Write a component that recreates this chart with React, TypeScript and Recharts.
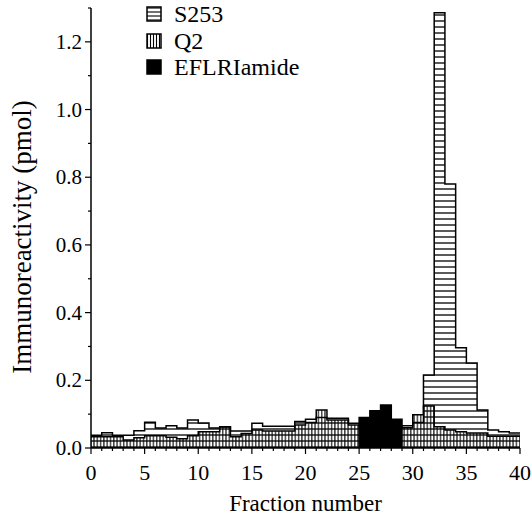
import React from 'react';
import { ComposedChart, Area, XAxis, YAxis, Legend, Label } from 'recharts';

const fractions = [0, 1, 2, 3, 4, 5, 6, 7, 8, 9, 10, 11, 12, 13, 14, 15, 16, 17, 18, 19, 20, 21, 22, 23, 24, 25, 26, 27, 28, 29, 30, 31, 32, 33, 34, 35, 36, 37, 38, 39];

const s253 = [0.038, 0.045, 0.038, 0.038, 0.051, 0.076, 0.059, 0.066, 0.059, 0.083, 0.074, 0.059, 0.062, 0.05, 0.05, 0.073, 0.064, 0.064, 0.064, 0.078, 0.085, 0.09, 0.088, 0.088, 0.073, 0.072, 0.07, 0.07, 0.065, 0.066, 0.075, 0.216, 1.286, 0.78, 0.296, 0.251, 0.112, 0.053, 0.048, 0.044];

const q2 = [0.033, 0.033, 0.033, 0.024, 0.03, 0.036, 0.036, 0.032, 0.027, 0.036, 0.048, 0.048, 0.063, 0.033, 0.043, 0.053, 0.05, 0.05, 0.05, 0.068, 0.075, 0.112, 0.083, 0.083, 0.068, 0.062, 0.06, 0.06, 0.06, 0.06, 0.098, 0.124, 0.063, 0.053, 0.048, 0.044, 0.044, 0.035, 0.035, 0.035];

const eflriamide = [0, 0, 0, 0, 0, 0, 0, 0, 0, 0, 0, 0, 0, 0, 0, 0, 0, 0, 0, 0, 0, 0, 0, 0, 0, 0.09, 0.11, 0.127, 0.085, 0, 0, 0, 0, 0, 0, 0, 0, 0, 0, 0];

const xTicks = [0, 1, 2, 3, 4, 5, 6, 7, 8, 9, 10, 11, 12, 13, 14, 15, 16, 17, 18, 19, 20, 21, 22, 23, 24, 25, 26, 27, 28, 29, 30, 31, 32, 33, 34, 35, 36, 37, 38, 39, 40];
const xLabelTicks = [0, 5, 10, 15, 20, 25, 30, 35, 40];
const yTicks = [0, 0.1, 0.2, 0.3, 0.4, 0.5, 0.6, 0.7, 0.8, 0.9, 1.0, 1.1, 1.2, 1.3];
const yLabelTicks = [0, 0.2, 0.4, 0.6, 0.8, 1.0, 1.2];

const seriesNames = ['S253', 'Q2', 'EFLRIamide'];

const rows = fractions.map((f, i) => ({ fraction: f, S253: s253[i], Q2: q2[i], EFLRIamide: eflriamide[i] }));
// closing edge of the last histogram step
rows.push({ fraction: 40, S253: s253[39], Q2: q2[39], EFLRIamide: eflriamide[39] });

const FONT = "'Times New Roman', Times, 'Liberation Serif', 'DejaVu Serif', serif";

const XTick = (props: any) => {
  const { x, y, payload } = props;
  const v = payload.value;
  const major = xLabelTicks.includes(v);
  return (
    <g>
      <line x1={x} y1={y} x2={x} y2={y + (major ? 6 : 3)} stroke="#000" strokeWidth={1.2} />
      {major && (
        <text x={x} y={y + 32} textAnchor="middle" fontFamily={FONT} style={{ fontFamily: FONT }} fontSize={22} fill="#000">
          {v}
        </text>
      )}
    </g>
  );
};

const YTick = (props: any) => {
  const { x, y, payload } = props;
  const v = payload.value;
  const major = yLabelTicks.some((t) => Math.abs(t - v) < 1e-9);
  return (
    <g>
      <line x1={x} y1={y} x2={x - (major ? 6 : 3)} y2={y} stroke="#000" strokeWidth={1.2} />
      {major && (
        <text x={x - 9} y={y + 7} textAnchor="end" fontFamily={FONT} style={{ fontFamily: FONT }} fontSize={21} fill="#000">
          {v.toFixed(1)}
        </text>
      )}
    </g>
  );
};

const legendFills = ['url(#legH)', 'url(#legV)', '#000'];

const renderLegend = () => (
  <div style={{ fontFamily: FONT, fontSize: 24, color: '#000', lineHeight: '26px' }}>
    {seriesNames.map((name, i) => (
      <div key={name} style={{ display: 'flex', alignItems: 'center', height: 26.5 }}>
        <svg width={16} height={16} style={{ marginRight: 12 }}>
          <rect x={1} y={1} width={14} height={14} fill={legendFills[i]} stroke="#000" strokeWidth={1.5} />
        </svg>
        <span>{name}</span>
      </div>
    ))}
  </div>
);

const YTitle = () => (
  <text
    x={22}
    y={237}
    transform="rotate(-90, 22, 237)"
    textAnchor="middle"
    dominantBaseline="central"
    fontFamily={FONT}
    style={{ fontFamily: FONT }}
    fontSize={27}
    fill="#000"
  >
    Immunoreactivity (pmol)
  </text>
);

export default function App() {
  return (
    <div style={{ position: 'absolute', left: 0, top: 0, width: 531, height: 520, background: '#fff', fontFamily: FONT }}>
      <ComposedChart width={531} height={520} data={rows} margin={{ top: 8, right: 11, bottom: 0, left: 0 }}>
        <defs>
          <pattern id="hatchH" patternUnits="userSpaceOnUse" width={8} height={6}>
            <line x1={0} y1={3} x2={8} y2={3} stroke="#000" strokeWidth={1.3} />
          </pattern>
          <pattern id="hatchV" patternUnits="userSpaceOnUse" width={3.3} height={8}>
            <rect x={0} y={0} width={3.3} height={8} fill="#fff" />
            <line x1={1.6} y1={0} x2={1.6} y2={8} stroke="#000" strokeWidth={1.1} />
          </pattern>
          <pattern id="legH" patternUnits="userSpaceOnUse" width={4} height={4}>
            <rect x={0} y={0} width={4} height={4} fill="#fff" />
            <line x1={0} y1={2} x2={4} y2={2} stroke="#000" strokeWidth={1.1} />
          </pattern>
          <pattern id="legV" patternUnits="userSpaceOnUse" width={3} height={4}>
            <rect x={0} y={0} width={3} height={4} fill="#fff" />
            <line x1={1.5} y1={0} x2={1.5} y2={4} stroke="#000" strokeWidth={1.1} />
          </pattern>
        </defs>
        <XAxis
          xAxisId="x"
          dataKey="fraction"
          type="number"
          domain={[0, 40]}
          ticks={xTicks}
          interval={0}
          allowDataOverflow
          tickLine={false}
          tickSize={0}
          tickMargin={0}
          tick={<XTick />}
          height={72}
          axisLine={{ stroke: '#000', strokeWidth: 1.5 }}
        >
          <Label value="Fraction number" position="insideBottom" offset={9} fontFamily={FONT} style={{ fontFamily: FONT }} fontSize={23} fill="#000" />
        </XAxis>
        <YAxis
          yAxisId="y"
          type="number"
          domain={[0, 1.3]}
          ticks={yTicks}
          interval={0}
          allowDataOverflow
          tickLine={false}
          tickSize={0}
          tickMargin={0}
          tick={<YTick />}
          width={91}
          axisLine={{ stroke: '#000', strokeWidth: 1.5 }}
          label={{ content: () => <YTitle /> }}
        />
        <Area
          xAxisId="x"
          yAxisId="y"
          type="stepAfter"
          dataKey="Q2"
          stroke="#000"
          strokeWidth={1.5}
          fill="url(#hatchV)"
          fillOpacity={1}
          isAnimationActive={false}
          dot={false}
          activeDot={false}
        />
        <Area
          xAxisId="x"
          yAxisId="y"
          type="stepAfter"
          dataKey="S253"
          stroke="#000"
          strokeWidth={1.5}
          fill="url(#hatchH)"
          fillOpacity={1}
          isAnimationActive={false}
          dot={false}
          activeDot={false}
        />
        <Area
          xAxisId="x"
          yAxisId="y"
          type="stepAfter"
          dataKey="EFLRIamide"
          stroke="#000"
          strokeWidth={1.5}
          fill="#000"
          fillOpacity={1}
          isAnimationActive={false}
          dot={false}
          activeDot={false}
        />
        <Legend
          layout="vertical"
          align="center"
          verticalAlign="middle"
          content={renderLegend}
          wrapperStyle={{ left: 146, top: 1, width: 'auto', height: 'auto' }}
        />
      </ComposedChart>
    </div>
  );
}
